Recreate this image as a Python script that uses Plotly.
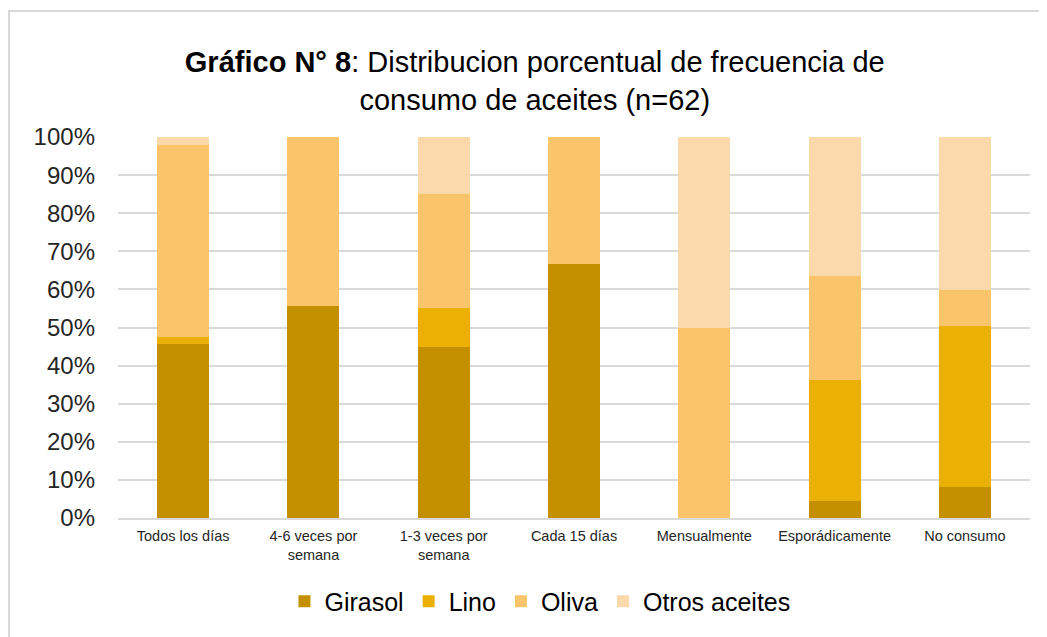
import plotly.graph_objects as go

categorias = ["Todos los días", "4-6 veces por<br>semana", "1-3 veces por<br>semana",
              "Cada 15 días", "Mensualmente", "Esporádicamente", "No consumo"]
girasol = [45.8, 55.6, 45.0, 66.7, 0, 4.5, 8.1]
lino = [1.7, 0, 10.0, 0, 0, 31.8, 42.4]
oliva = [50.3, 44.4, 30.0, 33.3, 50.0, 27.3, 9.4]
otros = [2.2, 0, 15.0, 0, 50.0, 36.4, 40.1]

series = [
    ("Girasol", girasol, "#C49000"),
    ("Lino", lino, "#EBB004"),
    ("Oliva", oliva, "#FAC56A"),
    ("Otros aceites", otros, "#FCD9AA"),
]

fig = go.Figure()
for nombre, valores, color in series:
    fig.add_trace(go.Bar(x=categorias, y=valores, name=nombre,
                         marker=dict(color=color, line=dict(width=0))))

# la página tiene 8px de margen, el gráfico se ajusta a la ventana
fig.update_layout(
    barmode="stack",
    bargap=0.6,
    width=1039, height=629,
    margin=dict(l=110, r=17, t=129, b=119),
    paper_bgcolor="white",
    plot_bgcolor="white",
    font=dict(family="Liberation Sans, Arial", color="#262626"),
    title=dict(
        text="<b>Gráfico N° 8</b>: Distribucion porcentual de frecuencia de<br>consumo de aceites (n=62)",
        x=0.507, xanchor="center", xref="container",
        y=0.898, yanchor="middle", yref="container",
        font=dict(size=29, color="#000000"),
    ),
    legend=dict(
        orientation="h", x=0.512, xanchor="center", xref="container",
        y=0.02, yanchor="bottom", yref="container",
        font=dict(size=25, color="#000000"),
        traceorder="normal",
    ),
    showlegend=True,
)

fig.update_yaxes(
    range=[0, 100], dtick=10, ticksuffix="%",
    showgrid=True, gridcolor="#D9D9D9", gridwidth=2,
    zeroline=False, showline=False,
    tickfont=dict(size=24, color="#262626"),
    ticks="", ticklabelstandoff=22,
)
fig.update_xaxes(
    showline=True, linecolor="#D9D9D9", linewidth=2,
    tickfont=dict(size=14.5, color="#262626"),
    ticks="", tickangle=0, ticklabelstandoff=4,
)

# marco exterior del gráfico
fig.add_shape(type="rect", xref="paper", yref="paper",
              x0=-0.1195, x1=1.05, y0=-0.35, y1=1.331,
              line=dict(color="#D9D9D9", width=2), fillcolor="rgba(0,0,0,0)")

fig.write_html("out.html")
